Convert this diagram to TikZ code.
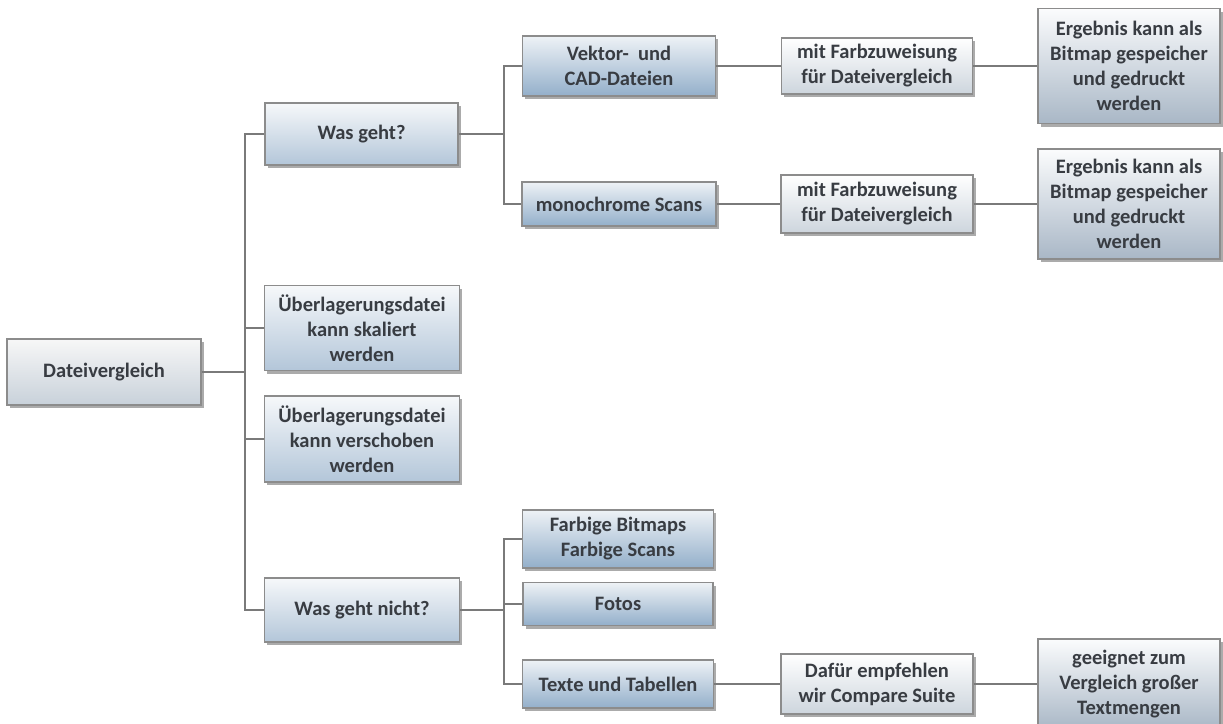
\documentclass[tikz,border=0pt]{standalone}
\usepackage{fontspec}
\setmainfont{Carlito}
\usetikzlibrary{shadows}
\definecolor{txt}{HTML}{383C42}
\definecolor{bord}{HTML}{8C8C8C}
\definecolor{conn}{HTML}{7A7A7A}
\definecolor{topA}{HTML}{F6F8FA}
\definecolor{botA}{HTML}{B3C6D9}
\definecolor{topB}{HTML}{EEF2F6}
\definecolor{botB}{HTML}{93AFCA}
\definecolor{topC}{HTML}{FFFFFF}
\definecolor{botC}{HTML}{CDD5DD}
\definecolor{topD}{HTML}{FBFCFD}
\definecolor{botD}{HTML}{A9B7C6}
\definecolor{topE}{HTML}{F7F7F7}
\definecolor{botE}{HTML}{C8D1DA}
\tikzset{
  box/.style={draw=bord, line width=1.2pt, align=center, inner sep=1pt,
    text=txt, font=\fontsize{20.5}{25}\selectfont\bfseries,
    drop shadow={shadow xshift=2.5pt, shadow yshift=-3pt, fill=black!60, opacity=0.55}},
  lvlA/.style={box, top color=topA, bottom color=botA},
  lvlB/.style={box, top color=topB, bottom color=botB},
  lvlC/.style={box, top color=topC, bottom color=botC},
  lvlD/.style={box, top color=topD, bottom color=botD},
  lvlE/.style={box, top color=topE, bottom color=botE},
  link/.style={draw=conn, line width=1.3pt}
}
\begin{document}
\begin{tikzpicture}[x=1pt, y=-1pt]
\useasboundingbox (0,0) rectangle (1223,723);
\clip (0,0) rectangle (1223,723);
\fill[white] (0,0) rectangle (1223,723);
% level 0
\node[lvlE, minimum width=194pt, minimum height=66pt] (dv) at (104,372) {Dateivergleich};
% level 1
\node[lvlA, minimum width=193pt, minimum height=62pt] (wg) at (361.5,134) {Was geht?};
\node[lvlA, minimum width=195pt, minimum height=85pt] (ue1) at (362,328) {Überlagerungsdatei\\kann skaliert\\werden};
\node[lvlA, minimum width=195pt, minimum height=86pt] (ue2) at (362,439) {Überlagerungsdatei\\kann verschoben\\werden};
\node[lvlA, minimum width=195pt, minimum height=64pt] (wgn) at (362,610) {Was geht nicht?};
% level 2
\node[lvlB, minimum width=193pt, minimum height=60pt] (vk) at (619,66) {Vektor-\ \ und\\CAD-Dateien};
\node[lvlB, minimum width=194pt, minimum height=44pt] (mono) at (619,204) {monochrome Scans};
\node[lvlB, minimum width=191pt, minimum height=58pt] (fb) at (618,539) {Farbige Bitmaps\\Farbige Scans};
\node[lvlB, minimum width=190pt, minimum height=43pt] (fo) at (618,604) {Fotos};
\node[lvlB, minimum width=191pt, minimum height=48pt] (tt) at (618,684) {Texte und Tabellen};
% level 3
\node[lvlC, minimum width=191pt, minimum height=56pt] (mf1) at (877,66) {mit Farbzuweisung\\für Dateivergleich};
\node[lvlC, minimum width=192pt, minimum height=58pt] (mf2) at (877,204) {mit Farbzuweisung\\für Dateivergleich};
\node[lvlC, minimum width=192pt, minimum height=60pt] (df) at (877,684) {Dafür empfehlen\\wir Compare Suite};
% level 4
\node[lvlD, minimum width=182pt, minimum height=115pt] (eg1) at (1129,66) {Ergebnis kann als\\Bitmap gespeicher\\und gedruckt\\werden};
\node[lvlD, minimum width=182pt, minimum height=110pt] (eg2) at (1129,204) {Ergebnis kann als\\Bitmap gespeicher\\und gedruckt\\werden};
\node[lvlD, minimum width=182pt, minimum height=90pt] (ge) at (1129,684) {geeignet zum\\Vergleich großer\\Textmengen};
% junction columns
\coordinate (j1) at (245,0);
\coordinate (j2) at (504,0);
% connectors
\draw[link] (dv.east) -- (dv.east -| j1);
\draw[link] (wg.west) -| (j1 |- wgn.west) -- (wgn.west);
\draw[link] (ue1.west) -- (ue1.west -| j1);
\draw[link] (ue2.west) -- (ue2.west -| j1);
\draw[link] (wg.east) -- (wg.east -| j2);
\draw[link] (vk.west) -| (j2 |- mono.west) -- (mono.west);
\draw[link] (wgn.east) -- (wgn.east -| j2);
\draw[link] (fb.west) -| (j2 |- tt.west) -- (tt.west);
\draw[link] (fo.west) -- (fo.west -| j2);
\draw[link] (vk.east) -- (mf1.west);
\draw[link] (mono.east) -- (mf2.west);
\draw[link] (tt.east) -- (df.west);
\draw[link] (mf1.east) -- (eg1.west);
\draw[link] (mf2.east) -- (eg2.west);
\draw[link] (df.east) -- (ge.west);
\end{tikzpicture}
\end{document}
